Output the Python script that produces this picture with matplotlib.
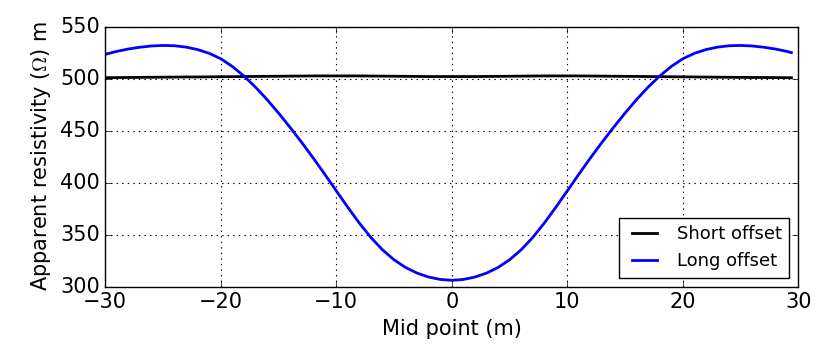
import matplotlib
matplotlib.use("Agg")
import matplotlib.pyplot as plt

# Mid point positions (m)
mid_point = [-30, -29, -28, -27, -26, -25, -24, -23, -22, -21, -20, -19, -18, -17,
             -16, -15, -14, -13, -12, -11, -10, -9, -8, -7, -6, -5, -4, -3, -2, -1,
             0, 1, 2, 3, 4, 5, 6, 7, 8, 9, 10, 11, 12, 13, 14, 15, 16, 17, 18, 19,
             20, 21, 22, 23, 24, 25, 26, 27, 28, 29, 29.4]

# apparent resistivity, short offset (nearly flat)
short_offset = [500.8, 500.9, 501.0, 501.1, 501.2, 501.3, 501.4, 501.5, 501.5, 501.6,
                501.7, 501.8, 501.9, 502.0, 502.1, 502.2, 502.3, 502.4, 502.5, 502.5,
                502.5, 502.5, 502.5, 502.4, 502.3, 502.2, 502.1, 502.0, 501.9, 501.9,
                501.9, 501.9, 501.9, 502.0, 502.1, 502.2, 502.3, 502.4, 502.5, 502.5,
                502.5, 502.5, 502.4, 502.3, 502.2, 502.1, 502.0, 501.9, 501.8, 501.7,
                501.6, 501.5, 501.4, 501.3, 501.2, 501.1, 501.0, 501.0, 500.9, 500.8,
                500.8]

# apparent resistivity, long offset
long_offset = [523.3, 526.1, 528.4, 530.1, 531.3, 531.8, 531.5, 530.2, 527.8, 524.2,
               519.0, 511.6, 502.4, 491.8, 479.8, 466.8, 453.0, 438.6, 423.6, 408.0,
               392.0, 376.1, 360.9, 347.1, 335.3, 325.7, 318.3, 312.9, 309.1, 306.8,
               306.0, 306.8, 309.1, 312.9, 318.3, 325.7, 335.3, 347.1, 360.9, 376.1,
               392.0, 408.0, 423.6, 438.6, 453.0, 466.8, 479.8, 491.8, 502.4, 511.6,
               519.0, 524.2, 527.8, 530.2, 531.5, 531.8, 531.3, 530.1, 528.4, 526.1,
               524.9]

plt.style.use("classic")
plt.rcParams["figure.facecolor"] = "white"
plt.rcParams["savefig.facecolor"] = "white"

fig = plt.figure(figsize=(8.29, 3.49), dpi=100)
ax = fig.add_axes([0.127, 0.179, 0.836, 0.745])

ax.plot(mid_point, short_offset, color="k", linewidth=2, label="Short offset")
ax.plot(mid_point, long_offset, color="b", linewidth=2, label="Long offset")

ax.set_xlim(-30, 30)
ax.set_ylim(300, 550)
ax.set_xticks([-30, -20, -10, 0, 10, 20, 30])
ax.set_yticks([300, 350, 400, 450, 500, 550])
ax.tick_params(labelsize=15)
ax.grid(True, linestyle=":", color="k", linewidth=0.8)
ax.set_xlabel("Mid point (m)", fontsize=15)
ax.set_ylabel(r"Apparent resistivity ($\Omega$) m", fontsize=15)

leg = ax.legend(loc="lower right", fontsize=13, handlelength=2)

fig.savefig("out.png", dpi=100)
